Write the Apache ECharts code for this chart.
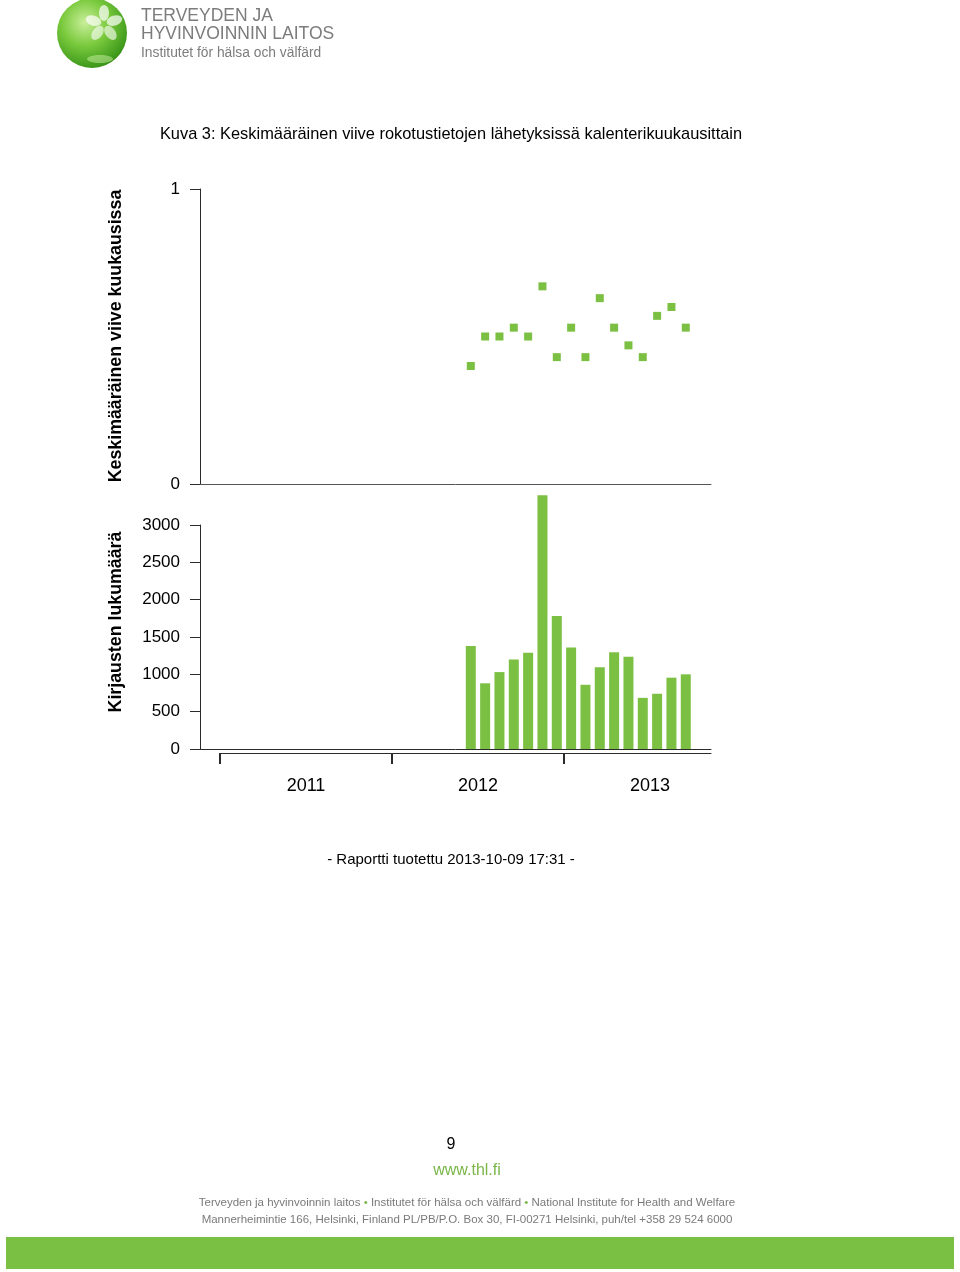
<!DOCTYPE html>
<html>
<head>
<meta charset="utf-8">
<script src="https://cdn.jsdelivr.net/npm/echarts@6/dist/echarts.min.js"></script>
<style>
html,body{margin:0;padding:0;background:#fff;}
#chart{width:960px;height:1272px;}
</style>
</head>
<body>
<div id="chart"></div>
<script>
// ---- data ----
var months = ['2012-06','2012-07','2012-08','2012-09','2012-10','2012-11','2012-12',
              '2013-01','2013-02','2013-03','2013-04','2013-05','2013-06','2013-07','2013-08','2013-09'];
var delays = [0.40,0.50,0.50,0.53,0.50,0.67,0.43,0.53,0.43,0.63,0.53,0.47,0.43,0.57,0.60,0.53];
var counts = [1380,880,1030,1200,1290,3400,1780,1360,860,1095,1295,1235,685,740,955,1000];
var yearLabels = ['2011','2012','2013'];
var delayTicks = [0, 1];
var countTicks = [0, 500, 1000, 1500, 2000, 2500, 3000];

var firstYear = 2011;
function monthPos(m){ // center of month on a month-index scale (0 = Jan 2011)
  var p = m.split('-');
  return (parseInt(p[0],10)-firstYear)*12 + (parseInt(p[1],10)-1) + 0.5;
}
var GREEN = '#7bc043';
var AXIS = '#2b2b2b';
var FONT = '"Liberation Sans", Arial, Helvetica, sans-serif';

var xMin = -1.395, xMax = 34.26;

var chart = echarts.init(document.getElementById('chart'), null, {renderer:'canvas'});
var option = {
  animation:false,
  backgroundColor:'#fff',
  textStyle:{fontFamily:FONT},
  grid:[
    {left:200, top:189, width:511, height:295},
    {left:200, top:525, width:511, height:224},
    {left:220, top:752, width:491, height:1}
  ],
  xAxis:[
    {gridIndex:0, type:'value', min:xMin, max:xMax, splitLine:{show:false},
     axisLine:{show:true, onZero:false, lineStyle:{color:'#555', width:1}}, axisTick:{show:false}, axisLabel:{show:false}},
    {gridIndex:1, type:'value', min:xMin, max:xMax, splitLine:{show:false},
     axisLine:{show:true, onZero:false, lineStyle:{color:AXIS, width:1}}, axisTick:{show:false}, axisLabel:{show:false}},
    {gridIndex:2, type:'value', min:0, max:xMax-xMin-20/14.333, position:'bottom', splitLine:{show:false},
     axisLine:{show:true, onZero:false, lineStyle:{color:AXIS, width:1}},
     axisTick:{show:true, customValues:[0,12,24], length:11, lineStyle:{color:AXIS, width:2}},
     axisLabel:{show:true, customValues:[6,18,30], margin:24, fontSize:18, color:'#000', fontFamily:FONT,
       formatter:function(v){ return yearLabels[Math.floor(v/12)]; }}}
  ],
  yAxis:[
    {gridIndex:0, type:'value', min:0, max:1, interval:1, splitLine:{show:false},
     axisLine:{show:true, onZero:false, lineStyle:{color:AXIS, width:1}},
     axisTick:{show:true, length:10, lineStyle:{color:AXIS}},
     axisLabel:{margin:20, fontSize:17, color:'#000', fontFamily:FONT,
       formatter:function(v){ return delayTicks.indexOf(v)>=0 ? String(v) : ''; }}},
    {gridIndex:1, type:'value', min:0, max:3000, interval:500, splitLine:{show:false},
     axisLine:{show:true, onZero:false, lineStyle:{color:AXIS, width:1}},
     axisTick:{show:true, length:10, lineStyle:{color:AXIS}},
     axisLabel:{margin:20, fontSize:17, color:'#000', fontFamily:FONT,
       formatter:function(v){ return countTicks.indexOf(v)>=0 ? String(v) : ''; }}},
    {gridIndex:2, type:'value', show:false, min:0, max:1}
  ],
  series:[
    {type:'scatter', xAxisIndex:0, yAxisIndex:0, symbol:'rect', symbolSize:8,
     itemStyle:{color:GREEN, opacity:1},
     data: months.map(function(m,i){ return [monthPos(m), delays[i]]; })},
    {type:'bar', xAxisIndex:1, yAxisIndex:1, barWidth:10, clip:false,
     itemStyle:{color:GREEN},
     data: months.map(function(m,i){ return [monthPos(m), counts[i]]; })}
  ],
  graphic:[
    // logo shadow
    {type:'ellipse', shape:{cx:80, cy:58, rx:28, ry:6},
     style:{fill:{type:'radial', x:0.5, y:0.5, r:0.5, colorStops:[{offset:0,color:'rgba(140,170,120,0.55)'},{offset:1,color:'rgba(200,220,190,0)'}]}}},
    // logo sphere
    {type:'circle', shape:{cx:92, cy:33, r:35},
     style:{fill:{type:'radial', x:0.4, y:0.35, r:0.75, colorStops:[
       {offset:0,color:'#c9ef9a'},{offset:0.45,color:'#79c93c'},{offset:0.85,color:'#3f9a1c'},{offset:1,color:'#2f7f12'}]}}},
    // flower petals
    {type:'ellipse', x:104, y:24, rotation:0.0, shape:{cx:0, cy:-11, rx:5, ry:8}, style:{fill:'rgba(255,255,255,0.7)'}},
    {type:'ellipse', x:104, y:24, rotation:1.26, shape:{cx:0, cy:-11, rx:5, ry:8}, style:{fill:'rgba(255,255,255,0.7)'}},
    {type:'ellipse', x:104, y:24, rotation:2.51, shape:{cx:0, cy:-11, rx:5, ry:8}, style:{fill:'rgba(255,255,255,0.6)'}},
    {type:'ellipse', x:104, y:24, rotation:3.77, shape:{cx:0, cy:-11, rx:5, ry:8}, style:{fill:'rgba(255,255,255,0.6)'}},
    {type:'ellipse', x:104, y:24, rotation:5.03, shape:{cx:0, cy:-11, rx:5, ry:8}, style:{fill:'rgba(255,255,255,0.7)'}},
    {type:'ellipse', shape:{cx:100, cy:59, rx:13, ry:4}, style:{fill:'rgba(220,250,180,0.45)'}},
    // logo text
    {type:'text', x:141, y:7, style:{text:'TERVEYDEN JA', font:'17.5px '+FONT, fill:'#7c7c7c'}},
    {type:'text', x:141, y:25, style:{text:'HYVINVOINNIN LAITOS', font:'17.5px '+FONT, fill:'#7c7c7c'}},
    {type:'text', x:141, y:46, style:{text:'Institutet för hälsa och välfärd', font:'13.8px '+FONT, fill:'#7c7c7c'}},
    // title
    {type:'text', x:451, y:134, style:{text:'Kuva 3: Keskimääräinen viive rokotustietojen lähetyksissä kalenterikuukausittain',
      font:'16.4px '+FONT, fill:'#000', textAlign:'center', textVerticalAlign:'middle'}},
    // axis names
    {type:'text', x:116, y:336, rotation:Math.PI/2, style:{text:'Keskimääräinen viive kuukausissa',
      font:'bold 17.8px '+FONT, fill:'#000', textAlign:'center', textVerticalAlign:'middle'}},
    {type:'text', x:116, y:622, rotation:Math.PI/2, style:{text:'Kirjausten lukumäärä',
      font:'bold 17.8px '+FONT, fill:'#000', textAlign:'center', textVerticalAlign:'middle'}},
    // report line
    {type:'text', x:451, y:860, style:{text:'- Raportti tuotettu 2013-10-09 17:31 -',
      font:'15px '+FONT, fill:'#000', textAlign:'center', textVerticalAlign:'middle'}},
    // footer
    {type:'text', x:451, y:1145, style:{text:'9', font:'16px '+FONT, fill:'#000', textAlign:'center', textVerticalAlign:'middle'}},
    {type:'text', x:467, y:1171, style:{text:'www.thl.fi', font:'16px '+FONT, fill:'#7ab648', textAlign:'center', textVerticalAlign:'middle'}},
    {type:'text', x:467, y:1203, style:{
      text:'Terveyden ja hyvinvoinnin laitos {g|•} Institutet för hälsa och välfärd {g|•} National Institute for Health and Welfare',
      font:'11.5px '+FONT, fill:'#7a7a7a', textAlign:'center', textVerticalAlign:'middle',
      rich:{g:{fill:'#7ab648', font:'11.5px '+FONT}}}},
    {type:'text', x:467, y:1220, style:{
      text:'Mannerheimintie 166, Helsinki, Finland PL/PB/P.O. Box 30, FI-00271 Helsinki, puh/tel +358 29 524 6000',
      font:'11.5px '+FONT, fill:'#7a7a7a', textAlign:'center', textVerticalAlign:'middle'}},
    {type:'rect', shape:{x:6, y:1237, width:948, height:32}, style:{fill:'#79c043'}}
  ]
};
chart.setOption(option);
</script>
</body>
</html>
